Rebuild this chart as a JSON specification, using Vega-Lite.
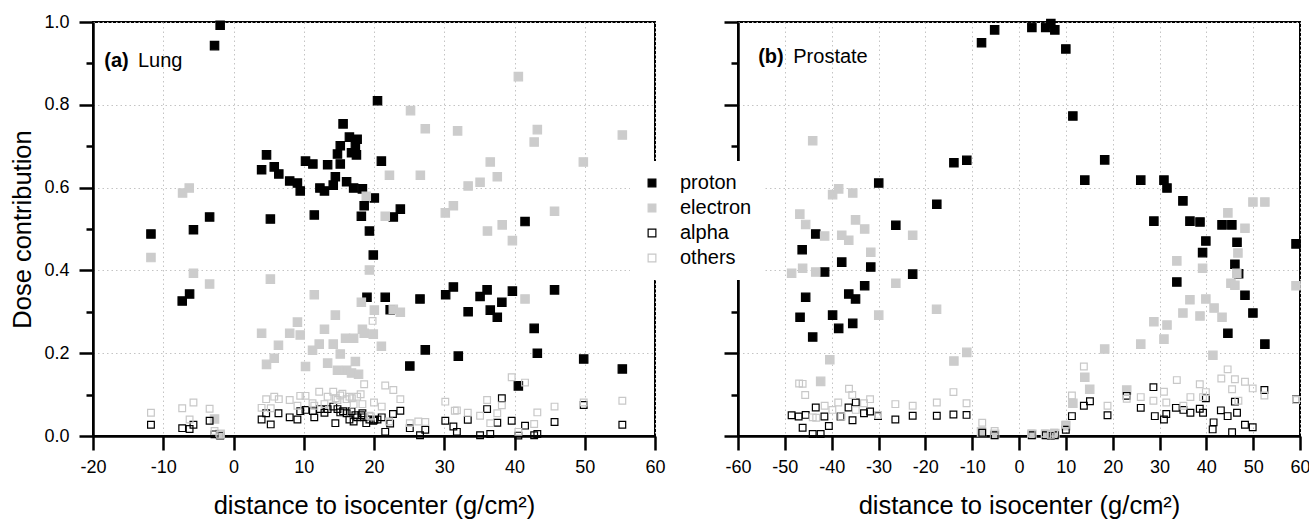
{
  "$schema": "https://vega.github.io/schema/vega-lite/v6.json",
  "background": "white",
  "padding": {"left": 9, "top": 12, "right": 0, "bottom": 0},
  "spacing": 54,
  "config": {
    "font": "Liberation Sans",
    "view": {"stroke": "#000", "strokeWidth": 2},
    "axis": {"domainColor": "#000", "domainWidth": 2.5, "tickColor": "#000", "tickWidth": 2.5, "tickSize": 14, "labelFontSize": 18, "labelColor": "#000", "labelFont": "Liberation Sans", "titleFont": "Liberation Sans", "titleFontSize": 25.5, "titleFontWeight": "normal", "titleColor": "#000", "gridColor": "#c4c4c4", "gridDash": [1.5, 3], "gridWidth": 1, "labelOverlap": false, "labelFlush": false}
  },
  "datasets": {
    "lung": [
      {"species":"proton","distance":-11.75,"dose":0.488},{"species":"proton","distance":-7.3,"dose":0.326},{"species":"proton","distance":-6.25,"dose":0.343},{"species":"proton","distance":-5.7,"dose":0.498},{"species":"proton","distance":-3.4,"dose":0.529},{"species":"proton","distance":-2.7,"dose":0.943},{"species":"proton","distance":-1.9,"dose":0.992},
      {"species":"proton","distance":4.0,"dose":0.643},{"species":"proton","distance":4.7,"dose":0.679},{"species":"proton","distance":5.25,"dose":0.524},{"species":"proton","distance":5.8,"dose":0.65},{"species":"proton","distance":6.45,"dose":0.633},{"species":"proton","distance":8.0,"dose":0.616},{"species":"proton","distance":9.1,"dose":0.611},{"species":"proton","distance":9.5,"dose":0.592},{"species":"proton","distance":10.25,"dose":0.664},{"species":"proton","distance":11.3,"dose":0.657},{"species":"proton","distance":11.5,"dose":0.534},{"species":"proton","distance":12.3,"dose":0.599},{"species":"proton","distance":12.95,"dose":0.592},{"species":"proton","distance":13.4,"dose":0.655},{"species":"proton","distance":14.2,"dose":0.606},{"species":"proton","distance":14.5,"dose":0.626},{"species":"proton","distance":14.8,"dose":0.681},{"species":"proton","distance":15.2,"dose":0.657},{"species":"proton","distance":15.2,"dose":0.701},{"species":"proton","distance":15.6,"dose":0.754},{"species":"proton","distance":16.1,"dose":0.614},{"species":"proton","distance":16.5,"dose":0.722},{"species":"proton","distance":16.8,"dose":0.684},{"species":"proton","distance":17.1,"dose":0.599},{"species":"proton","distance":17.35,"dose":0.699},{"species":"proton","distance":17.5,"dose":0.679},{"species":"proton","distance":17.6,"dose":0.717},{"species":"proton","distance":18.2,"dose":0.531},{"species":"proton","distance":18.35,"dose":0.597},{"species":"proton","distance":18.6,"dose":0.556},{"species":"proton","distance":19.0,"dose":0.335},{"species":"proton","distance":19.35,"dose":0.495},{"species":"proton","distance":19.9,"dose":0.437},{"species":"proton","distance":20.05,"dose":0.575},{"species":"proton","distance":20.5,"dose":0.81},{"species":"proton","distance":21.05,"dose":0.664},{"species":"proton","distance":21.6,"dose":0.335},{"species":"proton","distance":22.3,"dose":0.305},{"species":"proton","distance":22.75,"dose":0.529},{"species":"proton","distance":23.75,"dose":0.548},{"species":"proton","distance":25.1,"dose":0.169},{"species":"proton","distance":26.55,"dose":0.331},{"species":"proton","distance":27.3,"dose":0.208},{"species":"proton","distance":30.2,"dose":0.341},{"species":"proton","distance":31.3,"dose":0.36},{"species":"proton","distance":32.0,"dose":0.193},{"species":"proton","distance":33.4,"dose":0.3},{"species":"proton","distance":35.1,"dose":0.337},{"species":"proton","distance":36.1,"dose":0.353},{"species":"proton","distance":36.55,"dose":0.304},{"species":"proton","distance":37.55,"dose":0.287},{"species":"proton","distance":38.2,"dose":0.323},{"species":"proton","distance":39.7,"dose":0.35},{"species":"proton","distance":40.55,"dose":0.121},{"species":"proton","distance":41.5,"dose":0.518},{"species":"proton","distance":42.8,"dose":0.26},{"species":"proton","distance":43.25,"dose":0.2},{"species":"proton","distance":45.7,"dose":0.353},{"species":"proton","distance":49.85,"dose":0.186},{"species":"proton","distance":55.35,"dose":0.162},
      {"species":"electron","distance":-11.75,"dose":0.431},{"species":"electron","distance":-7.25,"dose":0.587},{"species":"electron","distance":-6.3,"dose":0.599},{"species":"electron","distance":-5.7,"dose":0.393},{"species":"electron","distance":-3.4,"dose":0.367},{"species":"electron","distance":-2.7,"dose":0.041},{"species":"electron","distance":-1.9,"dose":0.004},{"species":"electron","distance":4.0,"dose":0.248},{"species":"electron","distance":4.7,"dose":0.173},{"species":"electron","distance":5.25,"dose":0.379},{"species":"electron","distance":5.8,"dose":0.188},{"species":"electron","distance":6.4,"dose":0.219},{"species":"electron","distance":8.0,"dose":0.248},{"species":"electron","distance":9.1,"dose":0.275},{"species":"electron","distance":9.5,"dose":0.244},{"species":"electron","distance":10.25,"dose":0.168},{"species":"electron","distance":11.25,"dose":0.207},{"species":"electron","distance":11.5,"dose":0.341},{"species":"electron","distance":12.2,"dose":0.222},{"species":"electron","distance":12.95,"dose":0.258},{"species":"electron","distance":13.4,"dose":0.176},{"species":"electron","distance":14.2,"dose":0.222},{"species":"electron","distance":14.5,"dose":0.292},{"species":"electron","distance":14.8,"dose":0.159},{"species":"electron","distance":15.2,"dose":0.198},{"species":"electron","distance":15.95,"dose":0.236},{"species":"electron","distance":16.1,"dose":0.159},{"species":"electron","distance":16.8,"dose":0.152},{"species":"electron","distance":17.1,"dose":0.236},{"species":"electron","distance":17.35,"dose":0.18},{"species":"electron","distance":17.8,"dose":0.149},{"species":"electron","distance":18.2,"dose":0.323},{"species":"electron","distance":18.35,"dose":0.258},{"species":"electron","distance":18.6,"dose":0.248},{"species":"electron","distance":18.9,"dose":0.579},{"species":"electron","distance":19.35,"dose":0.401},{"species":"electron","distance":19.9,"dose":0.246},{"species":"electron","distance":20.05,"dose":0.304},{"species":"electron","distance":21.05,"dose":0.217},{"species":"electron","distance":21.6,"dose":0.531},{"species":"electron","distance":22.2,"dose":0.63},{"species":"electron","distance":22.75,"dose":0.306},{"species":"electron","distance":23.75,"dose":0.299},{"species":"electron","distance":25.2,"dose":0.786},{"species":"electron","distance":26.6,"dose":0.63},{"species":"electron","distance":27.3,"dose":0.742},{"species":"electron","distance":30.15,"dose":0.539},{"species":"electron","distance":31.3,"dose":0.556},{"species":"electron","distance":31.9,"dose":0.737},{"species":"electron","distance":33.4,"dose":0.604},{"species":"electron","distance":35.1,"dose":0.613},{"species":"electron","distance":36.15,"dose":0.495},{"species":"electron","distance":36.55,"dose":0.662},{"species":"electron","distance":37.55,"dose":0.626},{"species":"electron","distance":38.25,"dose":0.51},{"species":"electron","distance":39.7,"dose":0.472},{"species":"electron","distance":40.55,"dose":0.868},{"species":"electron","distance":41.5,"dose":0.331},{"species":"electron","distance":42.8,"dose":0.71},{"species":"electron","distance":43.25,"dose":0.74},{"species":"electron","distance":45.7,"dose":0.543},{"species":"electron","distance":49.8,"dose":0.662},{"species":"electron","distance":55.35,"dose":0.727},
      {"species":"alpha","distance":-11.75,"dose":0.027},{"species":"alpha","distance":-7.3,"dose":0.019},{"species":"alpha","distance":-6.25,"dose":0.017},{"species":"alpha","distance":-5.7,"dose":0.027},{"species":"alpha","distance":-3.4,"dose":0.037},{"species":"alpha","distance":-2.7,"dose":0.004},{"species":"alpha","distance":-1.9,"dose":0.001},{"species":"alpha","distance":4.0,"dose":0.04},{"species":"alpha","distance":4.65,"dose":0.055},{"species":"alpha","distance":5.3,"dose":0.028},{"species":"alpha","distance":6.4,"dose":0.055},{"species":"alpha","distance":8.0,"dose":0.045},{"species":"alpha","distance":9.1,"dose":0.04},{"species":"alpha","distance":9.5,"dose":0.06},{"species":"alpha","distance":10.25,"dose":0.063},{"species":"alpha","distance":11.3,"dose":0.06},{"species":"alpha","distance":11.5,"dose":0.045},{"species":"alpha","distance":12.3,"dose":0.065},{"species":"alpha","distance":12.95,"dose":0.056},{"species":"alpha","distance":13.4,"dose":0.065},{"species":"alpha","distance":14.2,"dose":0.071},{"species":"alpha","distance":14.5,"dose":0.031},{"species":"alpha","distance":14.8,"dose":0.065},{"species":"alpha","distance":15.2,"dose":0.057},{"species":"alpha","distance":15.6,"dose":0.06},{"species":"alpha","distance":16.1,"dose":0.055},{"species":"alpha","distance":16.5,"dose":0.04},{"species":"alpha","distance":16.8,"dose":0.06},{"species":"alpha","distance":17.1,"dose":0.035},{"species":"alpha","distance":17.35,"dose":0.05},{"species":"alpha","distance":17.6,"dose":0.045},{"species":"alpha","distance":18.2,"dose":0.05},{"species":"alpha","distance":18.35,"dose":0.055},{"species":"alpha","distance":18.6,"dose":0.045},{"species":"alpha","distance":18.9,"dose":0.031},{"species":"alpha","distance":19.35,"dose":0.04},{"species":"alpha","distance":19.9,"dose":0.037},{"species":"alpha","distance":20.05,"dose":0.039},{"species":"alpha","distance":20.5,"dose":0.04},{"species":"alpha","distance":21.1,"dose":0.045},{"species":"alpha","distance":21.6,"dose":0.01},{"species":"alpha","distance":22.3,"dose":0.03},{"species":"alpha","distance":22.7,"dose":0.053},{"species":"alpha","distance":23.75,"dose":0.061},{"species":"alpha","distance":25.1,"dose":0.019},{"species":"alpha","distance":26.55,"dose":0.002},{"species":"alpha","distance":27.3,"dose":0.015},{"species":"alpha","distance":30.15,"dose":0.037},{"species":"alpha","distance":31.3,"dose":0.023},{"species":"alpha","distance":31.8,"dose":0.01},{"species":"alpha","distance":33.35,"dose":0.039},{"species":"alpha","distance":35.1,"dose":0.002},{"species":"alpha","distance":36.1,"dose":0.065},{"species":"alpha","distance":36.55,"dose":0.005},{"species":"alpha","distance":37.55,"dose":0.032},{"species":"alpha","distance":38.2,"dose":0.091},{"species":"alpha","distance":39.6,"dose":0.037},{"species":"alpha","distance":40.55,"dose":0.001},{"species":"alpha","distance":41.5,"dose":0.025},{"species":"alpha","distance":42.8,"dose":0.002},{"species":"alpha","distance":43.25,"dose":0.005},{"species":"alpha","distance":45.7,"dose":0.034},{"species":"alpha","distance":49.85,"dose":0.075},{"species":"alpha","distance":55.35,"dose":0.027},
      {"species":"others","distance":-11.75,"dose":0.056},{"species":"others","distance":-7.3,"dose":0.067},{"species":"others","distance":-6.25,"dose":0.04},{"species":"others","distance":-5.7,"dose":0.081},{"species":"others","distance":-3.4,"dose":0.066},{"species":"others","distance":-2.7,"dose":0.012},{"species":"others","distance":-1.9,"dose":0.003},{"species":"others","distance":4.0,"dose":0.068},{"species":"others","distance":4.65,"dose":0.089},{"species":"others","distance":5.3,"dose":0.067},{"species":"others","distance":5.8,"dose":0.095},{"species":"others","distance":6.45,"dose":0.089},{"species":"others","distance":8.0,"dose":0.087},{"species":"others","distance":9.1,"dose":0.073},{"species":"others","distance":9.5,"dose":0.097},{"species":"others","distance":10.25,"dose":0.097},{"species":"others","distance":11.25,"dose":0.079},{"species":"others","distance":11.5,"dose":0.073},{"species":"others","distance":12.2,"dose":0.107},{"species":"others","distance":12.95,"dose":0.077},{"species":"others","distance":13.4,"dose":0.095},{"species":"others","distance":14.2,"dose":0.107},{"species":"others","distance":14.55,"dose":0.091},{"species":"others","distance":14.8,"dose":0.087},{"species":"others","distance":15.2,"dose":0.098},{"species":"others","distance":15.5,"dose":0.102},{"species":"others","distance":16.1,"dose":0.089},{"species":"others","distance":16.5,"dose":0.095},{"species":"others","distance":16.85,"dose":0.091},{"species":"others","distance":17.1,"dose":0.077},{"species":"others","distance":17.6,"dose":0.095},{"species":"others","distance":18.1,"dose":0.101},{"species":"others","distance":18.35,"dose":0.077},{"species":"others","distance":18.6,"dose":0.125},{"species":"others","distance":19.35,"dose":0.049},{"species":"others","distance":19.55,"dose":0.047},{"species":"others","distance":19.8,"dose":0.278},{"species":"others","distance":20.0,"dose":0.081},{"species":"others","distance":21.1,"dose":0.071},{"species":"others","distance":21.6,"dose":0.122},{"species":"others","distance":22.15,"dose":0.035},{"species":"others","distance":22.75,"dose":0.111},{"species":"others","distance":23.75,"dose":0.089},{"species":"others","distance":25.1,"dose":0.031},{"species":"others","distance":26.3,"dose":0.035},{"species":"others","distance":27.3,"dose":0.034},{"species":"others","distance":30.15,"dose":0.083},{"species":"others","distance":31.5,"dose":0.061},{"species":"others","distance":31.8,"dose":0.062},{"species":"others","distance":33.35,"dose":0.056},{"species":"others","distance":35.1,"dose":0.049},{"species":"others","distance":36.1,"dose":0.087},{"species":"others","distance":36.55,"dose":0.031},{"species":"others","distance":37.55,"dose":0.055},{"species":"others","distance":38.2,"dose":0.074},{"species":"others","distance":39.6,"dose":0.142},{"species":"others","distance":40.55,"dose":0.01},{"species":"others","distance":41.5,"dose":0.129},{"species":"others","distance":42.8,"dose":0.029},{"species":"others","distance":43.25,"dose":0.057},{"species":"others","distance":45.7,"dose":0.071},{"species":"others","distance":49.85,"dose":0.081},{"species":"others","distance":55.35,"dose":0.085}
    ],
    "prostate": [
      {"species":"proton","distance":-46.75,"dose":0.287},{"species":"proton","distance":-46.3,"dose":0.45},{"species":"proton","distance":-45.55,"dose":0.335},{"species":"proton","distance":-44.05,"dose":0.239},{"species":"proton","distance":-43.4,"dose":0.488},{"species":"proton","distance":-41.5,"dose":0.396},{"species":"proton","distance":-39.8,"dose":0.292},{"species":"proton","distance":-38.5,"dose":0.26},{"species":"proton","distance":-37.85,"dose":0.42},{"species":"proton","distance":-36.35,"dose":0.343},{"species":"proton","distance":-35.5,"dose":0.272},{"species":"proton","distance":-34.9,"dose":0.331},{"species":"proton","distance":-32.95,"dose":0.363},{"species":"proton","distance":-31.65,"dose":0.408},{"species":"proton","distance":-29.95,"dose":0.611},{"species":"proton","distance":-26.3,"dose":0.509},{"species":"proton","distance":-22.7,"dose":0.391},{"species":"proton","distance":-17.55,"dose":0.56},{"species":"proton","distance":-13.9,"dose":0.66},{"species":"proton","distance":-11.15,"dose":0.666},{"species":"proton","distance":-8.0,"dose":0.95},{"species":"proton","distance":-5.2,"dose":0.981},{"species":"proton","distance":2.75,"dose":0.987},{"species":"proton","distance":5.7,"dose":0.987},{"species":"proton","distance":6.8,"dose":0.996},{"species":"proton","distance":7.65,"dose":0.981},{"species":"proton","distance":10.0,"dose":0.935},{"species":"proton","distance":11.5,"dose":0.773},{"species":"proton","distance":14.05,"dose":0.618},{"species":"proton","distance":18.3,"dose":0.667},{"species":"proton","distance":26.0,"dose":0.618},{"species":"proton","distance":28.8,"dose":0.519},{"species":"proton","distance":30.95,"dose":0.618},{"species":"proton","distance":31.6,"dose":0.599},{"species":"proton","distance":33.7,"dose":0.372},{"species":"proton","distance":35.0,"dose":0.568},{"species":"proton","distance":36.5,"dose":0.519},{"species":"proton","distance":38.65,"dose":0.517},{"species":"proton","distance":39.2,"dose":0.443},{"species":"proton","distance":39.9,"dose":0.471},{"species":"proton","distance":43.35,"dose":0.51},{"species":"proton","distance":44.6,"dose":0.248},{"species":"proton","distance":45.45,"dose":0.51},{"species":"proton","distance":46.1,"dose":0.415},{"species":"proton","distance":46.55,"dose":0.468},{"species":"proton","distance":46.9,"dose":0.392},{"species":"proton","distance":48.25,"dose":0.34},{"species":"proton","distance":49.95,"dose":0.297},{"species":"proton","distance":52.5,"dose":0.222},{"species":"proton","distance":59.15,"dose":0.464},
      {"species":"electron","distance":-48.55,"dose":0.393},{"species":"electron","distance":-46.8,"dose":0.536},{"species":"electron","distance":-46.2,"dose":0.405},{"species":"electron","distance":-45.55,"dose":0.511},{"species":"electron","distance":-44.05,"dose":0.713},{"species":"electron","distance":-43.4,"dose":0.396},{"species":"electron","distance":-42.35,"dose":0.132},{"species":"electron","distance":-41.5,"dose":0.483},{"species":"electron","distance":-40.4,"dose":0.184},{"species":"electron","distance":-39.8,"dose":0.583},{"species":"electron","distance":-38.5,"dose":0.597},{"species":"electron","distance":-37.85,"dose":0.485},{"species":"electron","distance":-36.35,"dose":0.473},{"species":"electron","distance":-35.5,"dose":0.587},{"species":"electron","distance":-34.9,"dose":0.522},{"species":"electron","distance":-32.95,"dose":0.5},{"species":"electron","distance":-31.65,"dose":0.444},{"species":"electron","distance":-29.95,"dose":0.292},{"species":"electron","distance":-26.3,"dose":0.369},{"species":"electron","distance":-22.7,"dose":0.485},{"species":"electron","distance":-17.6,"dose":0.306},{"species":"electron","distance":-13.9,"dose":0.181},{"species":"electron","distance":-11.15,"dose":0.202},{"species":"electron","distance":-8.0,"dose":0.01},{"species":"electron","distance":-5.2,"dose":0.004},{"species":"electron","distance":2.75,"dose":0.004},{"species":"electron","distance":5.7,"dose":0.004},{"species":"electron","distance":7.65,"dose":0.006},{"species":"electron","distance":10.0,"dose":0.025},{"species":"electron","distance":11.5,"dose":0.079},{"species":"electron","distance":14.05,"dose":0.142},{"species":"electron","distance":15.1,"dose":0.113},{"species":"electron","distance":18.3,"dose":0.21},{"species":"electron","distance":23.0,"dose":0.111},{"species":"electron","distance":26.0,"dose":0.222},{"species":"electron","distance":28.8,"dose":0.276},{"species":"electron","distance":30.95,"dose":0.234},{"species":"electron","distance":31.6,"dose":0.268},{"species":"electron","distance":33.7,"dose":0.423},{"species":"electron","distance":35.0,"dose":0.297},{"species":"electron","distance":36.5,"dose":0.329},{"species":"electron","distance":38.65,"dose":0.29},{"species":"electron","distance":39.2,"dose":0.405},{"species":"electron","distance":39.9,"dose":0.331},{"species":"electron","distance":41.4,"dose":0.195},{"species":"electron","distance":41.65,"dose":0.309},{"species":"electron","distance":43.35,"dose":0.287},{"species":"electron","distance":44.6,"dose":0.539},{"species":"electron","distance":45.25,"dose":0.369},{"species":"electron","distance":46.1,"dose":0.364},{"species":"electron","distance":46.5,"dose":0.393},{"species":"electron","distance":46.75,"dose":0.442},{"species":"electron","distance":48.25,"dose":0.502},{"species":"electron","distance":49.95,"dose":0.565},{"species":"electron","distance":52.5,"dose":0.565},{"species":"electron","distance":59.15,"dose":0.363},
      {"species":"alpha","distance":-48.55,"dose":0.05},{"species":"alpha","distance":-47.05,"dose":0.047},{"species":"alpha","distance":-46.2,"dose":0.02},{"species":"alpha","distance":-45.55,"dose":0.051},{"species":"alpha","distance":-44.05,"dose":0.005},{"species":"alpha","distance":-43.4,"dose":0.069},{"species":"alpha","distance":-42.35,"dose":0.005},{"species":"alpha","distance":-41.55,"dose":0.047},{"species":"alpha","distance":-40.6,"dose":0.024},{"species":"alpha","distance":-38.1,"dose":0.047},{"species":"alpha","distance":-36.4,"dose":0.069},{"species":"alpha","distance":-35.55,"dose":0.038},{"species":"alpha","distance":-34.85,"dose":0.081},{"species":"alpha","distance":-33.1,"dose":0.055},{"species":"alpha","distance":-31.8,"dose":0.059},{"species":"alpha","distance":-30.1,"dose":0.048},{"species":"alpha","distance":-26.4,"dose":0.04},{"species":"alpha","distance":-22.7,"dose":0.049},{"species":"alpha","distance":-17.55,"dose":0.049},{"species":"alpha","distance":-14.0,"dose":0.052},{"species":"alpha","distance":-11.2,"dose":0.051},{"species":"alpha","distance":-7.85,"dose":0.008},{"species":"alpha","distance":-5.2,"dose":0.002},{"species":"alpha","distance":2.75,"dose":0.002},{"species":"alpha","distance":5.7,"dose":0.002},{"species":"alpha","distance":6.8,"dose":0.001},{"species":"alpha","distance":7.65,"dose":0.002},{"species":"alpha","distance":10.0,"dose":0.015},{"species":"alpha","distance":11.3,"dose":0.048},{"species":"alpha","distance":13.85,"dose":0.073},{"species":"alpha","distance":15.15,"dose":0.084},{"species":"alpha","distance":18.9,"dose":0.05},{"species":"alpha","distance":23.0,"dose":0.097},{"species":"alpha","distance":26.0,"dose":0.068},{"species":"alpha","distance":28.7,"dose":0.118},{"species":"alpha","distance":29.0,"dose":0.048},{"species":"alpha","distance":30.95,"dose":0.04},{"species":"alpha","distance":31.45,"dose":0.053},{"species":"alpha","distance":33.5,"dose":0.068},{"species":"alpha","distance":35.1,"dose":0.063},{"species":"alpha","distance":36.6,"dose":0.056},{"species":"alpha","distance":38.6,"dose":0.066},{"species":"alpha","distance":39.3,"dose":0.056},{"species":"alpha","distance":39.9,"dose":0.091},{"species":"alpha","distance":41.35,"dose":0.016},{"species":"alpha","distance":41.55,"dose":0.033},{"species":"alpha","distance":43.1,"dose":0.062},{"species":"alpha","distance":44.55,"dose":0.048},{"species":"alpha","distance":45.5,"dose":0.009},{"species":"alpha","distance":46.1,"dose":0.083},{"species":"alpha","distance":46.55,"dose":0.056},{"species":"alpha","distance":48.25,"dose":0.027},{"species":"alpha","distance":49.9,"dose":0.021},{"species":"alpha","distance":52.4,"dose":0.111},{"species":"alpha","distance":59.15,"dose":0.088},
      {"species":"others","distance":-46.95,"dose":0.127},{"species":"others","distance":-46.2,"dose":0.126},{"species":"others","distance":-45.65,"dose":0.099},{"species":"others","distance":-44.05,"dose":0.045},{"species":"others","distance":-43.3,"dose":0.044},{"species":"others","distance":-41.5,"dose":0.073},{"species":"others","distance":-39.85,"dose":0.063},{"species":"others","distance":-38.6,"dose":0.081},{"species":"others","distance":-37.9,"dose":0.047},{"species":"others","distance":-36.3,"dose":0.114},{"species":"others","distance":-35.6,"dose":0.099},{"species":"others","distance":-34.85,"dose":0.063},{"species":"others","distance":-33.1,"dose":0.079},{"species":"others","distance":-31.8,"dose":0.089},{"species":"others","distance":-30.1,"dose":0.051},{"species":"others","distance":-26.4,"dose":0.077},{"species":"others","distance":-22.7,"dose":0.073},{"species":"others","distance":-17.55,"dose":0.081},{"species":"others","distance":-14.0,"dose":0.106},{"species":"others","distance":-11.2,"dose":0.079},{"species":"others","distance":-7.85,"dose":0.032},{"species":"others","distance":-5.2,"dose":0.012},{"species":"others","distance":2.7,"dose":0.006},{"species":"others","distance":5.5,"dose":0.006},{"species":"others","distance":6.8,"dose":0.003},{"species":"others","distance":7.5,"dose":0.008},{"species":"others","distance":10.0,"dose":0.027},{"species":"others","distance":11.3,"dose":0.098},{"species":"others","distance":13.85,"dose":0.168},{"species":"others","distance":18.9,"dose":0.073},{"species":"others","distance":23.0,"dose":0.09},{"species":"others","distance":26.0,"dose":0.094},{"species":"others","distance":28.7,"dose":0.085},{"species":"others","distance":30.95,"dose":0.107},{"species":"others","distance":31.45,"dose":0.081},{"species":"others","distance":33.7,"dose":0.135},{"species":"others","distance":35.1,"dose":0.073},{"species":"others","distance":36.6,"dose":0.094},{"species":"others","distance":38.6,"dose":0.125},{"species":"others","distance":39.3,"dose":0.094},{"species":"others","distance":39.9,"dose":0.106},{"species":"others","distance":43.2,"dose":0.139},{"species":"others","distance":44.55,"dose":0.161},{"species":"others","distance":45.5,"dose":0.113},{"species":"others","distance":46.1,"dose":0.137},{"species":"others","distance":46.85,"dose":0.085},{"species":"others","distance":48.25,"dose":0.131},{"species":"others","distance":49.9,"dose":0.115},{"species":"others","distance":52.4,"dose":0.098},{"species":"others","distance":59.15,"dose":0.087}
    ]
  },
  "resolve": {"scale": {"x": "independent", "y": "independent", "fill": "shared", "stroke": "shared"}},
  "hconcat": [
    {
      "width": 562,
      "height": 414,
      "layer": [
        {
          "data": {"name": "lung"},
          "mark": {"type": "point", "shape": "square", "opacity": 1, "strokeWidth": 1.2},
          "encoding": {
            "x": {"field": "distance", "type": "quantitative", "scale": {"domain": [-20, 60], "nice": false, "zero": false},
              "axis": {"values": [-20,-15,-10,-5,0,5,10,15,20,25,30,35,40,45,50,55,60], "title": "distance to isocenter (g/cm²)",
                "labelExpr": "datum.value % 10 === 0 ? '' + datum.value : ''",
                "tickDash": {"condition": {"test": "datum.value % 10 === 0", "value": [20, 0]}, "value": [7, 30]},
                "gridOpacity": {"condition": {"test": "datum.value % 10 === 0", "value": 1}, "value": 0},
                "labelPadding": 8, "titlePadding": 17}},
            "y": {"field": "dose", "type": "quantitative", "scale": {"domain": [0, 1], "nice": false},
              "axis": {"values": [0,0.1,0.2,0.3,0.4,0.5,0.6,0.7,0.8,0.9,1.0], "title": "Dose contribution",
                "labelExpr": "round(datum.value*10) % 2 === 0 ? format(datum.value, '.1f') : ''",
                "tickDash": {"condition": {"test": "round(datum.value*10) % 2 === 0", "value": [20, 0]}, "value": [7, 30]},
                "gridOpacity": {"condition": {"test": "round(datum.value*10) % 2 === 0", "value": 1}, "value": 0},
                "labelPadding": 10, "titlePadding": 8}},
            "fill": {"field": "species", "type": "nominal",
              "scale": {"domain": ["proton", "electron", "alpha", "others"], "range": ["#000000", "#cccccc", "transparent", "transparent"]},
              "legend": {"orient": "none", "legendX": 537, "legendY": 139, "title": null, "fillColor": "white", "labelFontSize": 20, "labelFont": "Liberation Sans", "labelColor": "#000", "symbolSize": 60, "symbolStrokeWidth": 1.2, "symbolType": "square", "rowPadding": 5, "labelOffset": 18, "padding": 12}},
            "stroke": {"field": "species", "type": "nominal",
              "scale": {"domain": ["proton", "electron", "alpha", "others"], "range": ["#000000", "#cccccc", "#000000", "#c8c8c8"]}},
            "size": {"condition": {"test": "datum.species === 'alpha' || datum.species === 'others'", "value": 45}, "value": 70}
          }
        },
        {
          "data": {"values": [{"tag": "(a)"}]},
          "mark": {"type": "text", "align": "left", "baseline": "middle", "fontSize": 20, "fontWeight": "bold", "font": "Liberation Sans", "color": "#000"},
          "encoding": {"x": {"datum": -18.4}, "y": {"datum": 0.905}, "text": {"field": "tag"}}
        },
        {
          "data": {"values": [{"tag": "Lung"}]},
          "mark": {"type": "text", "align": "left", "baseline": "middle", "fontSize": 20, "font": "Liberation Sans", "color": "#000"},
          "encoding": {"x": {"datum": -13.6}, "y": {"datum": 0.905}, "text": {"field": "tag"}}
        }
      ]
    },
    {
      "width": 562,
      "height": 414,
      "layer": [
        {
          "data": {"name": "prostate"},
          "mark": {"type": "point", "shape": "square", "opacity": 1, "strokeWidth": 1.2},
          "encoding": {
            "x": {"field": "distance", "type": "quantitative", "scale": {"domain": [-60, 60], "nice": false, "zero": false},
              "axis": {"values": [-60,-55,-50,-45,-40,-35,-30,-25,-20,-15,-10,-5,0,5,10,15,20,25,30,35,40,45,50,55,60], "title": "distance to isocenter (g/cm²)",
                "labelExpr": "datum.value % 10 === 0 ? '' + datum.value : ''",
                "tickDash": {"condition": {"test": "datum.value % 10 === 0", "value": [20, 0]}, "value": [7, 30]},
                "gridOpacity": {"condition": {"test": "datum.value % 10 === 0", "value": 1}, "value": 0},
                "labelPadding": 8, "titlePadding": 17}},
            "y": {"field": "dose", "type": "quantitative", "scale": {"domain": [0, 1], "nice": false},
              "axis": {"values": [0,0.1,0.2,0.3,0.4,0.5,0.6,0.7,0.8,0.9,1.0], "title": null, "labels": false,
                "tickDash": {"condition": {"test": "round(datum.value*10) % 2 === 0", "value": [20, 0]}, "value": [7, 30]},
                "gridOpacity": {"condition": {"test": "round(datum.value*10) % 2 === 0", "value": 1}, "value": 0}}},
            "fill": {"field": "species", "type": "nominal",
              "scale": {"domain": ["proton", "electron", "alpha", "others"], "range": ["#000000", "#cccccc", "transparent", "transparent"]}},
            "stroke": {"field": "species", "type": "nominal",
              "scale": {"domain": ["proton", "electron", "alpha", "others"], "range": ["#000000", "#cccccc", "#000000", "#c8c8c8"]}},
            "size": {"condition": {"test": "datum.species === 'alpha' || datum.species === 'others'", "value": 45}, "value": 70}
          }
        },
        {
          "data": {"values": [{"tag": "(b)"}]},
          "mark": {"type": "text", "align": "left", "baseline": "middle", "fontSize": 20, "fontWeight": "bold", "font": "Liberation Sans", "color": "#000"},
          "encoding": {"x": {"datum": -55.7}, "y": {"datum": 0.915}, "text": {"field": "tag"}}
        },
        {
          "data": {"values": [{"tag": "Prostate"}]},
          "mark": {"type": "text", "align": "left", "baseline": "middle", "fontSize": 20, "font": "Liberation Sans", "color": "#000"},
          "encoding": {"x": {"datum": -48.2}, "y": {"datum": 0.915}, "text": {"field": "tag"}}
        }
      ]
    }
  ]
}
